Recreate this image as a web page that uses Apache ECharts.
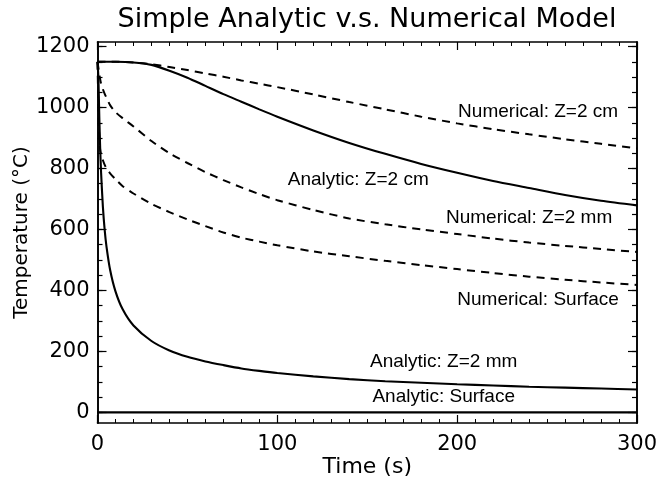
<!DOCTYPE html>
<html>
<head>
<meta charset="utf-8">
<script src="https://cdn.jsdelivr.net/npm/echarts@6/dist/echarts.min.js"></script>
<style>html,body{margin:0;padding:0;background:#fff}#c{width:656px;height:488px}</style>
</head>
<body>
<div id="c"></div>
<script>
// ---- data ----
const tSlow = [0,10,20,30,40,50,60,70,80,90,100,120,140,160,180,200,220,240,260,280,300];
const analytic2cm  = [1150,1150,1148,1140,1121,1098,1071,1044,1019,994,970,925,884,848,815,786,759,736,713,694,679];
const numerical2cm = [1150,1150,1148,1142,1133,1123,1112,1101,1089,1078,1067,1043,1018,994,970,948,929,912,896,881,866];

const tFast = [0,0.5,1,1.5,2,3,4,5,7,10,14,20,30,40,50,60,70,80,90,100,120,140,160,180,200,220,240,260,280,300];
const analytic2mm  = [1150,1097,969,864,786,674,598,544,468,397,338,285,234,203,182,167,155,144,136,129,118,109,102,97,92,88,84,81,78,75];
const numerical2mm = [1150,1130,1110,1092,1078,1060,1045,1032,1008,985,965,938,890,850,818,788,762,738,716,696,664,636,617,600,585,570,557,546,536,526];
const numericalSurface = [1150,1000,900,860,845,827,812,800,784,765,742,718,684,657,633,611,590,573,560,548,528,512,497,483,470,457,445,435,426,418];

const tSurf = [0,300];
const analyticSurface = [0,0];

const yTickValues = [0,200,400,600,800,1000,1200];
const yMinorValues = [0,50,100,150,200,250,300,350,400,450,500,550,600,650,700,750,800,850,900,950,1000,1050,1100,1150,1200];

const annotationText = ['Numerical: Z=2 cm','Analytic: Z=2 cm','Numerical: Z=2 mm','Numerical: Surface','Analytic: Z=2 mm','Analytic: Surface'];
const annotationX = [245,145,240,245,192.5,192.5];
const annotationY = [985,762,637,368,165,50];

// ---- chart ----
const pair = (ts, vs) => ts.map((t, i) => [t, vs[i]]);
const NUMFONT = 'DejaVu Sans';
const yMin = -35, yMax = 1215;
const frame = {show:true, onZero:false, lineStyle:{color:'#000', width:1.6}};

function xAx(pos, labels) {
  return {
    type:'value', position:pos, min:0, max:300, interval:100,
    axisLine: frame,
    axisTick: {show:true, inside:true, length:8, lineStyle:{color:'#000', width:1.2}},
    minorTick: {show:true, splitNumber:10, length:4, lineStyle:{color:'#000', width:1}},
    splitLine: {show:false},
    axisLabel: {show:labels, margin:11, fontSize:21, color:'#000', fontFamily:NUMFONT, formatter: v => String(v)},
    name: labels ? 'Time (s)' : '', nameLocation:'middle', nameGap:33, nameMoveOverlap:false,
    nameTextStyle: {fontSize:22, color:'#000', fontFamily:NUMFONT}
  };
}
function yAx(pos, major, labels) {
  return {
    type:'value', position:pos, min:yMin, max:yMax,
    axisLine: frame,
    axisTick: {show:true, inside:true, length: major ? 9 : 5, customValues: major ? yTickValues : yMinorValues,
               lineStyle:{color:'#000', width:1.2}},
    splitLine: {show:false},
    axisLabel: labels ? {show:true, customValues:yTickValues, margin:8, fontSize:21, color:'#000', fontFamily:NUMFONT,
                         formatter: v => String(v)}
                      : {show:false},
    name: labels ? 'Temperature (\u00B0C)' : '', nameLocation:'middle', nameGap:66, nameRotate:90, nameMoveOverlap:false,
    nameTextStyle: {fontSize:20, color:'#000', fontFamily:NUMFONT}
  };
}

const solid = {color:'#000', width:2.1, type:'solid'};
const dashed = {color:'#000', width:2, type:[8,6]};
function line(name, data, style) {
  return {name, type:'line', data, showSymbol:false, symbol:'none', lineStyle:style, smooth:0.25,
          xAxisIndex:0, yAxisIndex:0, animation:false, silent:true};
}

const chart = echarts.init(document.getElementById('c'), null, {renderer:'canvas'});
chart.setOption({
  backgroundColor:'#fff',
  animation:false,
  title: {text:'Simple Analytic v.s. Numerical Model', left:362, top:1, textAlign:'center',
          textStyle:{fontSize:27, fontWeight:'normal', color:'#000', fontFamily:NUMFONT}},
  grid: {left:97.5, right:19, top:42, bottom:65, containLabel:false, outerBoundsMode:'none'},
  xAxis: [xAx('bottom', true), xAx('top', false)],
  yAxis: [yAx('left', true, true), yAx('left', false, false), yAx('right', true, false), yAx('right', false, false)],
  series: [
    line('Analytic: Surface', pair(tSurf, analyticSurface), solid),
    line('Analytic: Z=2 mm', pair(tFast, analytic2mm), solid),
    line('Analytic: Z=2 cm', pair(tSlow, analytic2cm), solid),
    line('Numerical: Surface', pair(tFast, numericalSurface), dashed),
    line('Numerical: Z=2 mm', pair(tFast, numerical2mm), dashed),
    line('Numerical: Z=2 cm', pair(tSlow, numerical2cm), dashed),
    {
      type:'scatter', name:'labels', xAxisIndex:0, yAxisIndex:0, symbol:'circle', symbolSize:1,
      itemStyle:{color:'rgba(0,0,0,0)'}, silent:true, z:10,
      data: annotationText.map((s, i) => [annotationX[i], annotationY[i], s]),
      label: {show:true, position:'inside', formatter: p => p.value[2], align:'center', verticalAlign:'middle',
              fontSize:19, color:'#000', opacity:1, textBorderWidth:0, textBorderColor:'transparent',
              fontFamily:'Liberation Sans'}
    }
  ]
});
</script>
</body>
</html>
